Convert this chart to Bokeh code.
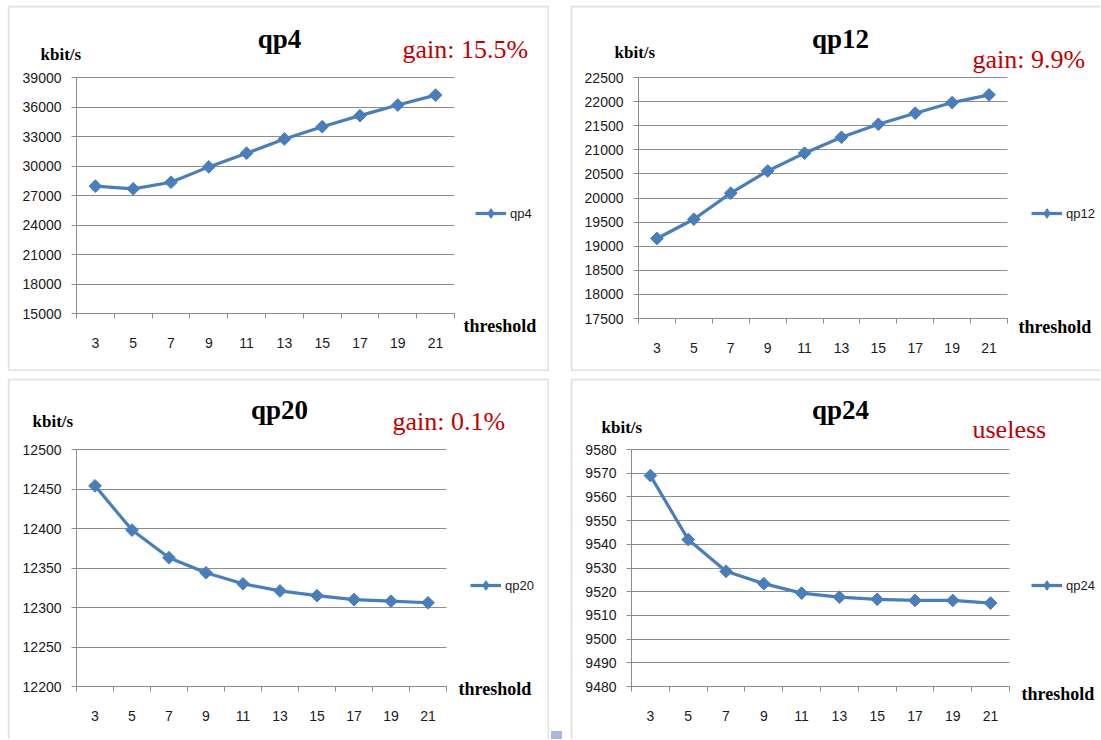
import numpy as np
from bokeh.plotting import figure
from bokeh.models import (Range1d, FixedTicker, Label, BoxAnnotation, Legend,
                          LegendItem, Spacer, BasicTickFormatter)
from bokeh.layouts import column, row
from bokeh.embed import file_html
from bokeh.resources import INLINE

# ---------------- data ----------------
thresholds = [3, 5, 7, 9, 11, 13, 15, 17, 19, 21]
qp4 = [27950, 27680, 28350, 29910, 31300, 32750, 34000, 35120, 36200, 37210]
qp12 = [19160, 19560, 20100, 20560, 20930, 21260, 21530, 21760, 21980, 22140]
qp20 = [12454, 12398, 12363, 12344, 12330, 12321, 12315, 12310, 12308, 12306]
qp24 = [9569.0, 9542.0, 9528.6, 9523.4, 9519.4, 9517.7, 9516.8, 9516.3, 9516.3, 9515.2]

yticks_qp4 = [15000, 18000, 21000, 24000, 27000, 30000, 33000, 36000, 39000]
yticks_qp12 = [17500, 18000, 18500, 19000, 19500, 20000, 20500, 21000, 21500, 22000, 22500]
yticks_qp20 = [12200, 12250, 12300, 12350, 12400, 12450, 12500]
yticks_qp24 = [9480, 9490, 9500, 9510, 9520, 9530, 9540, 9550, 9560, 9570, 9580]

titles = ["qp4", "qp12", "qp20", "qp24"]
notes = ["gain: 15.5%", "gain: 9.9%", "gain: 0.1%", "useless"]
y_unit = "kbit/s"
x_name = "threshold"

BLUE = "#4A7EBB"
GRID = "#8c8c8c"
RED = "#C00000"
SERIF = "Liberation Serif"
SANS = "Liberation Sans"


def chart(name, values, yticks, note, W, H, fl, fr, ft, fb, lay, open_right, open_bottom):
    boundaries = [t - 1 for t in thresholds] + [thresholds[-1] + 1]
    x0, x1 = boundaries[0], boundaries[-1]
    y0, y1 = yticks[0], yticks[-1]
    sx = (x1 - x0) / (fr - fl)
    sy = (y1 - y0) / (fb - ft)
    # the plotting frame covers the whole canvas; the data area is placed via the ranges
    p = figure(width=W, height=H,
               x_range=Range1d(x0 - fl * sx, x1 + (W - fr) * sx),
               y_range=Range1d(y0 - (H - fb) * sy, y1 + ft * sy),
               toolbar_location=None, output_backend="svg",
               min_border_left=0, min_border_right=0,
               min_border_top=0, min_border_bottom=0)
    p.outline_line_color = None
    p.background_fill_color = "white"
    p.border_fill_color = "white"

    p.xgrid.visible = False
    p.ygrid.ticker = FixedTicker(ticks=yticks)
    p.ygrid.bounds = (y0 - 0.001 * (y1 - y0), y1 + 0.001 * (y1 - y0))
    p.ygrid.cross_bounds = (x0, x1)
    p.ygrid.grid_line_color = GRID
    p.ygrid.grid_line_width = 1

    ln = p.line(thresholds, values, line_color=BLUE, line_width=3.2)
    dm = p.scatter(thresholds, values, marker="diamond", size=8,
                   fill_color=BLUE, line_color=BLUE)
    p.scatter(thresholds, values, marker="square", angle=np.pi / 4, size=9,
              fill_color=BLUE, line_color=BLUE)

    xa = p.xaxis[0]
    xa.fixed_location = y0
    xa.bounds = (x0, x1)
    xa.ticker = FixedTicker(ticks=thresholds, minor_ticks=boundaries)
    xa.major_tick_line_color = None
    xa.major_tick_out = 0
    xa.major_tick_in = 0
    xa.minor_tick_line_color = GRID
    xa.minor_tick_out = 5
    xa.minor_tick_in = 0
    xa.axis_line_color = GRID
    xa.major_label_standoff = 19
    xa.major_label_text_font = SANS
    xa.major_label_text_font_size = "14px"
    xa.major_label_text_color = "#1a1a1a"

    ya = p.yaxis[0]
    ya.fixed_location = x0
    ya.bounds = (y0, y1)
    ya.ticker = FixedTicker(ticks=yticks)
    ya.formatter = BasicTickFormatter(use_scientific=False)
    ya.major_tick_line_color = GRID
    ya.major_tick_out = 5
    ya.major_tick_in = 0
    ya.minor_tick_line_color = None
    ya.axis_line_color = GRID
    ya.major_label_standoff = 10
    ya.major_label_text_font = SANS
    ya.major_label_text_font_size = "14px"
    ya.major_label_text_color = "#1a1a1a"

    (tx, ty), (kx, ky), (gx, gy), (hx, hy), (lx, ly) = lay
    common = dict(x_units="canvas", y_units="canvas", text_baseline="alphabetic")
    p.add_layout(Label(x=tx, y=ty - 9, text=name, text_font=SERIF, text_font_style="bold",
                       text_font_size="27px", text_align="center", text_color="black", **common))
    p.add_layout(Label(x=kx, y=ky - 6, text=y_unit, text_font=SERIF, text_font_style="bold",
                       text_font_size="17px", text_align="left", text_color="black", **common))
    p.add_layout(Label(x=gx, y=gy - 8, text=note, text_font=SERIF, text_font_size="26px",
                       text_align="left", text_color=RED, **common))
    p.add_layout(Label(x=hx, y=hy - 7, text=x_name, text_font=SERIF, text_font_style="bold",
                       text_font_size="18px", text_align="left", text_color="black", **common))

    leg = Legend(items=[LegendItem(label=name, renderers=[ln, dm])],
                 location=(lx, H - (ly + 12)),
                 glyph_width=31, glyph_height=24, label_height=24,
                 label_standoff=4, padding=0, margin=0, spacing=0,
                 border_line_color=None, background_fill_alpha=0,
                 label_text_font=SANS, label_text_font_size="13px",
                 label_text_color="#1a1a1a")
    p.add_layout(leg, "center")

    p.add_layout(BoxAnnotation(left=1, right=(W + 10 if open_right else W - 1),
                               top=1, bottom=(H + 10 if open_bottom else H - 1),
                               left_units="canvas", right_units="canvas",
                               top_units="canvas", bottom_units="canvas",
                               fill_alpha=0, line_color="#9a9a9a", line_width=2,
                               level="overlay"))
    return p


W1, W2, H1, H2 = 542, 530, 366, 361

p1 = chart(titles[0], qp4, yticks_qp4, notes[0], W1, H1, 69, 447, 72, 308,
           [(272, 42), (33, 55), (395, 52), (456, 327), (468, 208)], False, False)
p2 = chart(titles[1], qp12, yticks_qp12, notes[1], W2, H1, 68, 437, 72, 313,
           [(270, 42), (44, 53), (402, 62), (448, 328), (461, 208)], True, False)
p3 = chart(titles[2], qp20, yticks_qp20, notes[2], W1, H2, 69, 439, 71, 308,
           [(272, 40), (25, 49), (385, 51), (451, 317), (463, 207)], False, True)
p4 = chart(titles[3], qp24, yticks_qp24, notes[3], W2, H2, 61, 439, 71, 308,
           [(270, 40), (31, 55), (402, 59), (451, 322), (461, 207)], True, True)

gap_bottom = column(
    Spacer(width=21, height=353),
    row(Spacer(width=2, height=8),
        Spacer(width=11, height=8, styles={"background-color": "#A9B9DD"})),
)

layout = column(
    Spacer(width=1, height=5),
    row(Spacer(width=7, height=1), p1, Spacer(width=21, height=1), p2),
    Spacer(width=1, height=7),
    row(Spacer(width=7, height=1), p3, gap_bottom, p4),
)

open("out.html", "w").write(file_html(layout, INLINE, title="threshold"))
